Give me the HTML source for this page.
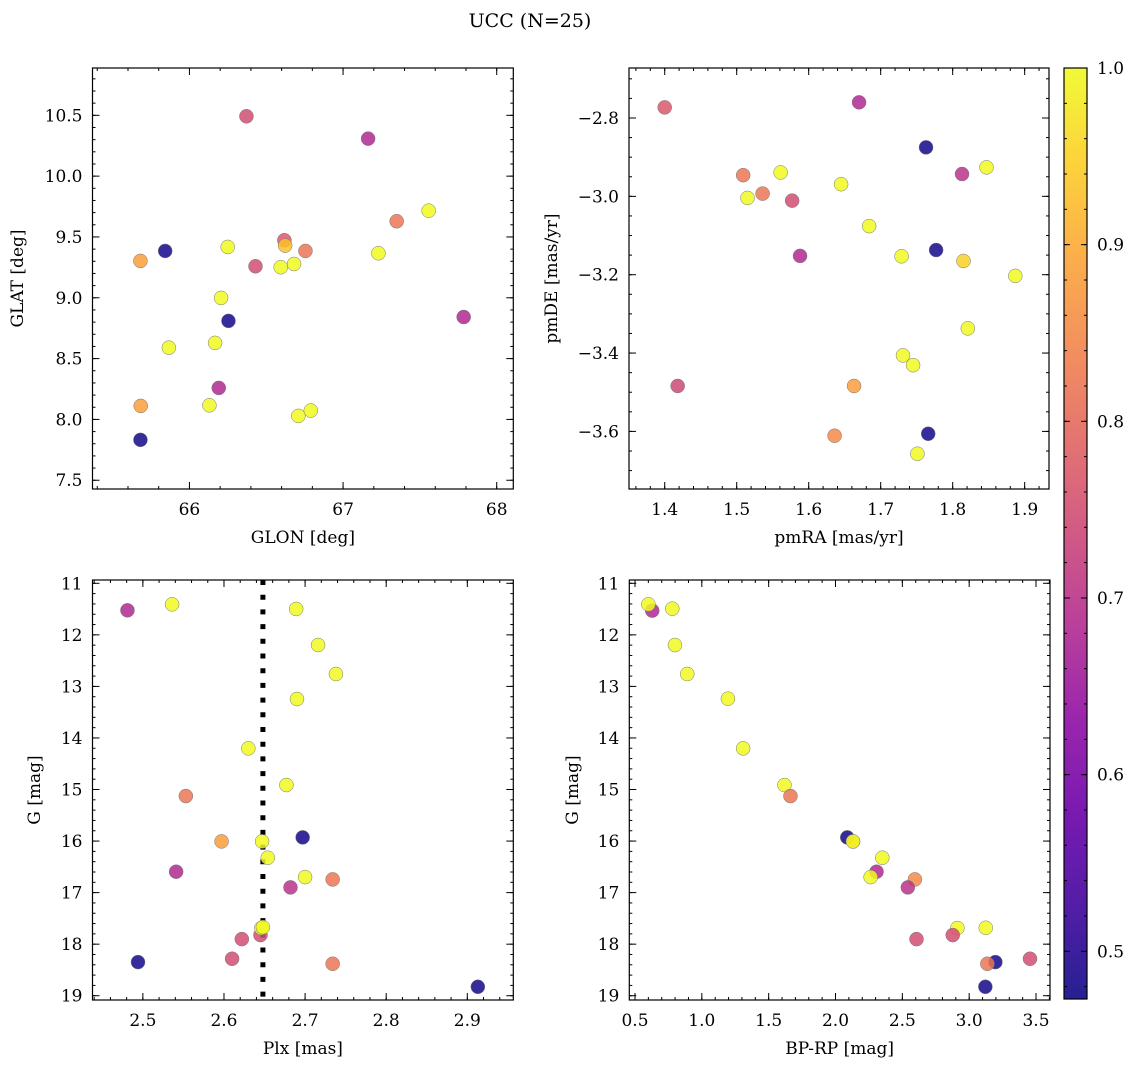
<!DOCTYPE html>
<html><head><meta charset="utf-8"><style>
html,body{margin:0;padding:0;background:#fff;}
svg{display:block;font-family:"DejaVu Serif","Liberation Serif",serif;}
</style></head><body>
<svg id="fig" width="1136" height="1067" viewBox="0 0 1136 1067">
<text x="530" y="27" font-size="19" text-anchor="middle">UCC (N=25)</text>
</svg>
<script>
// Panel 1: GLON vs GLAT
const p1x=[66.371,67.163,67.557,67.349,65.842,65.681,66.618,66.623,66.755,66.249,66.681,67.230,66.430,66.594,66.206,66.254,65.866,66.167,67.785,66.191,65.683,66.130,66.709,66.790,65.681];
const p1y=[10.492,10.308,9.716,9.629,9.385,9.303,9.473,9.429,9.385,9.418,9.278,9.366,9.259,9.251,8.999,8.810,8.590,8.629,8.842,8.259,8.111,8.116,8.029,8.073,7.832];
const p1c=[0.75,0.68,1,0.82,0.48,0.88,0.77,0.93,0.82,1,1,1,0.75,1,1,0.48,1,1,0.68,0.68,0.88,1,1,1,0.48];
// Panel 2: pmRA vs pmDE
const p2x=[1.400,1.670,1.763,1.509,1.561,1.515,1.536,1.577,1.645,1.684,1.588,1.729,1.777,1.813,1.847,1.815,1.887,1.821,1.731,1.745,1.418,1.663,1.636,1.766,1.751];
const p2y=[-2.773,-2.760,-2.875,-2.946,-2.939,-3.004,-2.993,-3.011,-2.969,-3.076,-3.152,-3.153,-3.137,-2.943,-2.926,-3.165,-3.203,-3.337,-3.406,-3.431,-3.484,-3.484,-3.611,-3.606,-3.657];
const p2c=[0.77,0.68,0.48,0.82,1,1,0.82,0.75,1,1,0.68,1,0.48,0.70,1,0.95,1,1,1,1,0.74,0.88,0.85,0.48,1];
// Panel 3: Plx vs G
const p3x=[2.481,2.536,2.689,2.716,2.738,2.690,2.630,2.677,2.553,2.597,2.647,2.697,2.654,2.541,2.700,2.734,2.682,2.645,2.622,2.610,2.494,2.734,2.913,2.646,2.648];
const p3y=[11.524,11.408,11.498,12.197,12.759,13.245,14.202,14.913,15.127,16.007,16.007,15.929,16.323,16.595,16.699,16.744,16.899,17.824,17.902,18.283,18.348,18.380,18.827,17.688,17.67];
const p3c=[0.68,1,1,1,1,1,1,1,0.82,0.88,1,0.48,1,0.68,1,0.82,0.70,0.75,0.75,0.75,0.48,0.82,0.48,1,1];
const plxLine=[2.648];
// Panel 4: BP-RP vs G
const p4x=[0.629,0.600,0.779,0.799,0.891,1.195,1.309,1.618,1.663,2.088,2.131,2.131,2.350,2.307,2.263,2.594,2.541,2.912,3.124,2.877,2.606,3.455,3.196,3.136,3.121];
const p4y=[11.530,11.408,11.492,12.197,12.759,13.238,14.202,14.913,15.127,15.929,16.007,16.007,16.323,16.595,16.699,16.744,16.899,17.688,17.682,17.824,17.902,18.283,18.348,18.380,18.827];
const p4c=[0.68,1,1,1,1,1,1,1,0.82,0.48,0.88,1,1,0.68,1,0.85,0.70,1,1,0.75,0.75,0.75,0.48,0.82,0.48];
const cbTicks=[0.5,0.6,0.7,0.8,0.9,1.0];

const NS="http://www.w3.org/2000/svg";
const svg=document.getElementById('fig');
const VMIN=0.473,VMAX=1.0;
const stops=["#0d0887","#41049d","#6a00a8","#8f0da4","#b12a90","#cc4778","#e16462","#f2844b","#fca636","#fcce25","#f0f921"];
function hx(h){return [parseInt(h.substr(1,2),16),parseInt(h.substr(3,2),16),parseInt(h.substr(5,2),16)];}
function plasma(v){let t=(v-VMIN)/(VMAX-VMIN);t=Math.max(0,Math.min(1,t));const s=t*10;const i=Math.min(9,Math.floor(s));const f=s-i;const a=hx(stops[i]),b=hx(stops[i+1]);
return `rgb(${Math.round(a[0]+(b[0]-a[0])*f)},${Math.round(a[1]+(b[1]-a[1])*f)},${Math.round(a[2]+(b[2]-a[2])*f)})`;}
function mk(tag,attrs,parent){const e=document.createElementNS(NS,tag);for(const k in attrs)e.setAttribute(k,attrs[k]);(parent||svg).appendChild(e);return e;}
function fmt(v,d){return v.toFixed(d).replace('-','\u2212');}

function panel(o){
  const g=mk('g',{});
  
  
  const X=v=>o.x0+(v-o.xmin)/(o.xmax-o.xmin)*(o.x1-o.x0);
  const Y=o.invert?(v=>o.y0+(v-o.ymin)/(o.ymax-o.ymin)*(o.y1-o.y0)):(v=>o.y1-(v-o.ymin)/(o.ymax-o.ymin)*(o.y1-o.y0));
  const tg=mk('g',{stroke:'#000','stroke-width':1},g);
  function ticks(min,max,step,len,isX,label,dec){
    const s=Math.ceil(min/step-1e-6),e=Math.floor(max/step+1e-6);
    for(let k=s;k<=e;k++){const v=k*step;
      if(isX){const p=X(v);mk('line',{x1:p,x2:p,y1:o.y1,y2:o.y1-len},tg);mk('line',{x1:p,x2:p,y1:o.y0,y2:o.y0+len},tg);
        if(label){const t=mk('text',{x:p,y:o.y1+26,'font-size':17,'text-anchor':'middle',stroke:'none'},g);t.textContent=fmt(v,dec);
          }}
      else{const p=Y(v);mk('line',{y1:p,y2:p,x1:o.x0,x2:o.x0+len},tg);mk('line',{y1:p,y2:p,x1:o.x1,x2:o.x1-len},tg);
        if(label){const t=mk('text',{x:o.x0-10,y:p+6,'font-size':17,'text-anchor':'end',stroke:'none'},g);t.textContent=fmt(v,dec);
          }}
    }
  }
  ticks(o.xmin,o.xmax,o.xminor,3,true,false);
  ticks(o.xmin,o.xmax,o.xmajor,7,true,true,o.xdec);
  ticks(Math.min(o.ymin,o.ymax),Math.max(o.ymin,o.ymax),o.yminor,3,false,false);
  ticks(Math.min(o.ymin,o.ymax),Math.max(o.ymin,o.ymax),o.ymajor,7,false,true,o.ydec);
  if(o.vline){for(const v of o.vline){const l=mk('line',{x1:X(v),x2:X(v),y1:o.y0,y2:o.y1,stroke:'#000','stroke-width':5,'stroke-dasharray':'5,9.7'},g);
    }}
  for(let i=0;i<o.xs.length;i++){
    const c=mk('circle',{cx:X(o.xs[i]),cy:Y(o.ys[i]),r:7,fill:plasma(o.cs[i]),'fill-opacity':0.85,stroke:'#777','stroke-width':0.5},g);
    
    
  }
  const fr=mk('rect',{x:o.x0,y:o.y0,width:o.x1-o.x0,height:o.y1-o.y0,fill:'none',stroke:'#000','stroke-width':1.2},g);
  
  const xl=mk('text',{x:(o.x0+o.x1)/2,y:o.y1+54,'font-size':17,'text-anchor':'middle'},g);xl.textContent=o.xlabel;
  
  const cy=(o.y0+o.y1)/2;
  const yl=mk('text',{x:o.ylx,y:cy,'font-size':17,'text-anchor':'middle',transform:`rotate(-90 ${o.ylx} ${cy})`},g);yl.textContent=o.ylabel;
  
}

panel({name:'glon-glat-panel',x0:92.5,x1:513.3,y0:68,y1:489,xmin:65.369,xmax:68.108,ymin:7.428,ymax:10.889,xmajor:1,xminor:0.2,ymajor:0.5,yminor:0.1,xdec:0,ydec:1,xs:p1x,ys:p1y,cs:p1c,xlabel:'GLON [deg]',ylabel:'GLAT [deg]',ylx:23});
panel({name:'pm-panel',x0:629,x1:1049,y0:68,y1:489,xmin:1.3504,xmax:1.9338,ymin:-3.747,ymax:-2.6724,xmajor:0.1,xminor:0.02,ymajor:0.2,yminor:0.05,xdec:1,ydec:1,xs:p2x,ys:p2y,cs:p2c,xlabel:'pmRA [mas/yr]',ylabel:'pmDE [mas/yr]',ylx:557});
panel({name:'plx-g-panel',x0:92.5,x1:513.3,y0:580,y1:1000,xmin:2.4379,xmax:2.9567,ymin:10.936,ymax:19.083,invert:true,xmajor:0.1,xminor:0.02,ymajor:1,yminor:0.2,xdec:1,ydec:0,xs:p3x,ys:p3y,cs:p3c,vline:plxLine,xlabel:'Plx [mas]',ylabel:'G [mag]',ylx:40});
panel({name:'cmd-panel',x0:629.3,x1:1050,y0:580,y1:1000,xmin:0.4574,xmax:3.6046,ymin:10.936,ymax:19.083,invert:true,xmajor:0.5,xminor:0.1,ymajor:1,yminor:0.2,xdec:1,ydec:0,xs:p4x,ys:p4y,cs:p4c,xlabel:'BP-RP [mag]',ylabel:'G [mag]',ylx:578});

// colorbar
const cb=mk('g',{});


const defs=mk('defs',{},cb);
const lg=mk('linearGradient',{id:'pl',x1:0,y1:1,x2:0,y2:0},defs);
for(let i=0;i<=20;i++){mk('stop',{offset:(i/20),'stop-color':plasma(VMIN+(VMAX-VMIN)*i/20),'stop-opacity':0.9},lg);}
const CX0=1064,CX1=1087,CY0=68,CY1=999;
mk('rect',{x:CX0,y:CY0,width:CX1-CX0,height:CY1-CY0,fill:'url(#pl)',stroke:'#000','stroke-width':1.2},cb);
const CY=v=>CY1-(v-VMIN)/(VMAX-VMIN)*(CY1-CY0);
for(let v=0.48;v<=1.0001;v+=0.02){const p=CY(v);mk('line',{x1:CX1,x2:CX1-3,y1:p,y2:p,stroke:'#000'},cb);mk('line',{x1:CX0,x2:CX0+3,y1:p,y2:p,stroke:'#000'},cb);}
for(const v of cbTicks){const p=CY(v);mk('line',{x1:CX1,x2:CX1-6,y1:p,y2:p,stroke:'#000'},cb);mk('line',{x1:CX0,x2:CX0+6,y1:p,y2:p,stroke:'#000'},cb);
  const t=mk('text',{x:CX1+10,y:p+6,'font-size':17},cb);t.textContent=v.toFixed(1);
  }
</script>
</body></html>
